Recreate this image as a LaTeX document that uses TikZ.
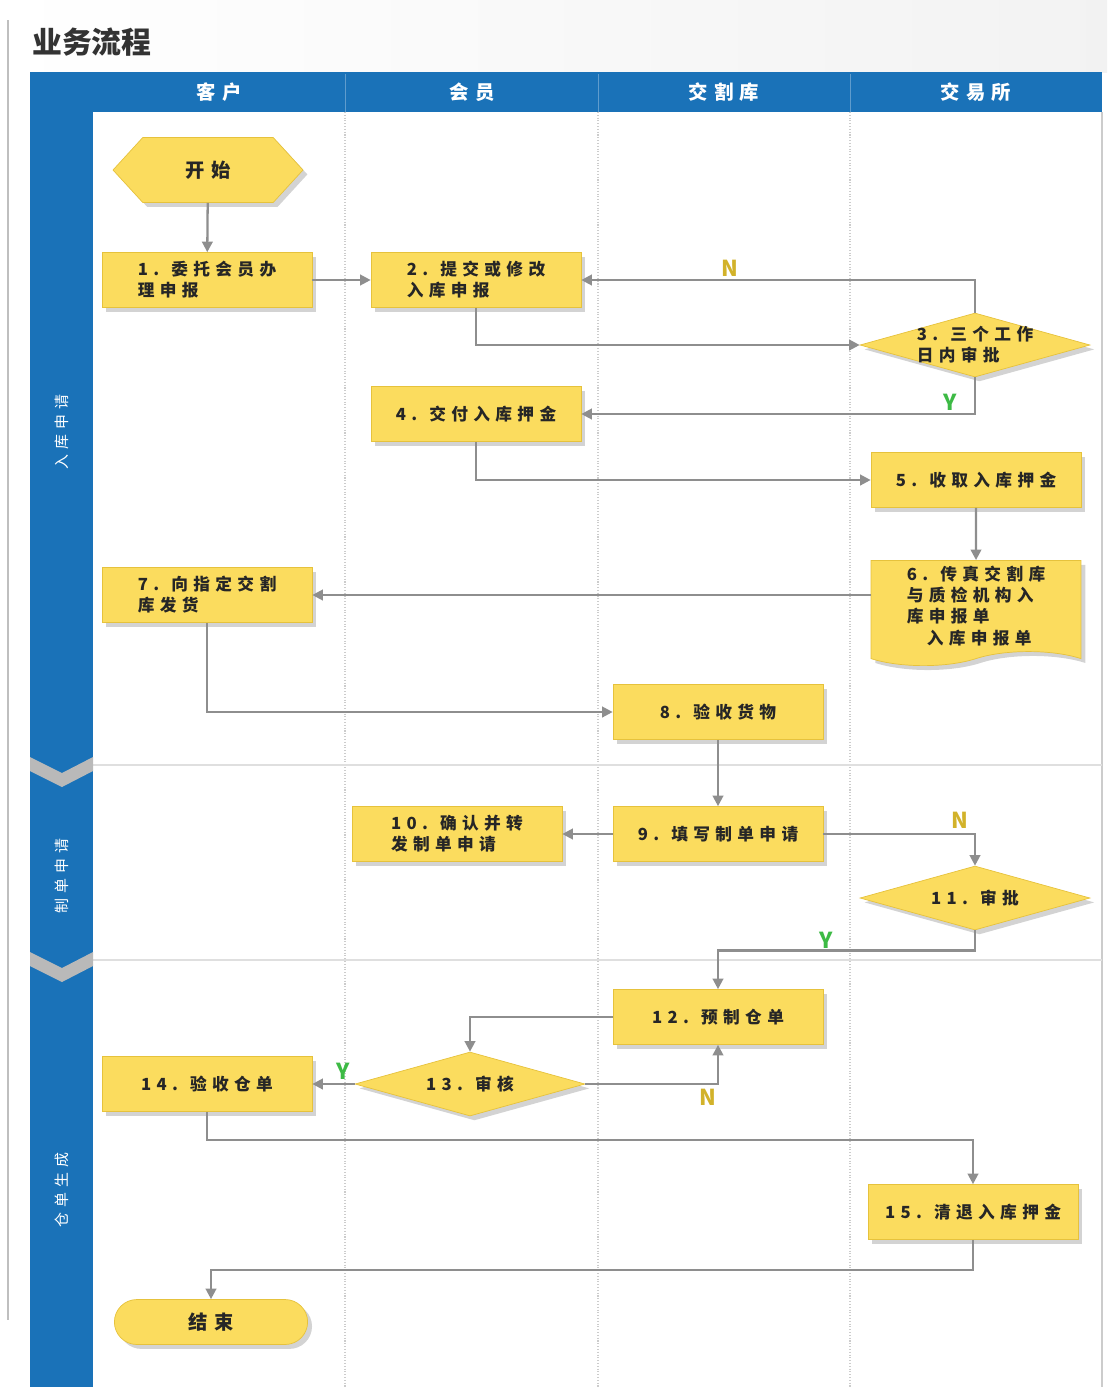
\documentclass[tikz,border=0pt]{standalone}
\usepackage{fontspec}
\setmainfont{Noto Sans CJK SC}
\newfontfamily\cjk[LetterSpace=32]{Noto Sans CJK SC}
\usetikzlibrary{shapes.geometric,shapes.symbols,shapes.misc,shadows,arrows.meta}
\definecolor{pool}{HTML}{1A72B8}
\definecolor{boxfill}{HTML}{FBDC5E}
\definecolor{boxline}{HTML}{E6C23C}
\definecolor{arrgray}{HTML}{8E8E8E}
\definecolor{nyel}{HTML}{D2B22A}
\definecolor{ygreen}{HTML}{3DBA45}
\begin{document}
\begin{tikzpicture}[x=0.02cm,y=-0.02cm,
    boxtext/.style={align=left,font=\cjk\bfseries\fontsize{9.5}{12}\selectfont,text=black!85},
    box/.style={boxtext,draw=boxline,fill=boxfill,minimum width=4.2cm,minimum height=1.1cm,
      drop shadow={shadow xshift=2.5pt,shadow yshift=-2.5pt,opacity=.35,fill=gray}},
    decide/.style={box,diamond,aspect=3.6,minimum width=4.6cm,minimum height=1.28cm,inner sep=0pt},
    arr/.style={draw=arrgray,line width=1.3pt,-{Triangle[length=6pt,width=6pt]}},
    lane/.style={draw=gray!40,densely dotted,line width=.6pt},
    yn/.style={font=\bfseries\fontsize{12.5}{14}\selectfont}]
  \useasboundingbox (0,0) rectangle (1107,1387);
  \shade[left color=white,right color=gray!10] (0,0) rectangle (1107,72);
  \draw[gray!50,line width=.8pt] (8,20) -- (8,1320);
  \node[anchor=west,font=\bfseries\fontsize{17}{20}\selectfont,text=black!80] (title) at (26,42) {业务流程};

  \fill[pool] (30,72) rectangle (93,1387);
  \fill[pool] (93,72) rectangle (1102,112);
  \foreach \x in {345,598,850} {
    \draw[pool!70!white,line width=.5pt] (\x,74) -- (\x,112);
    \draw[lane] (\x,112) -- (\x,1387);
  }
  \draw[gray!40,line width=.8pt] (1102,112) -- (1102,1387);
  \foreach \y in {765,960} {
    \draw[gray!25,line width=.8pt] (93,\y) -- (1102,\y);
    \fill[gray!55] (30,\y-8) -- (62,\y+8) -- (93,\y-8) -- (93,\y+6) -- (62,\y+22) -- (30,\y+6) -- cycle;
  }
  \foreach \x/\t in {219/客户,472/会员,724/交割库,976/交易所}
    \node[text=white,font=\cjk\bfseries\fontsize{11}{12}\selectfont] at (\x,92) {\t};
  \foreach \y/\t in {432/入库申请,876/制单申请,1190/仓单生成}
    \node[rotate=90,text=white,font=\cjk\fontsize{8.5}{10}\selectfont] at (62,\y) {\t};

  \node[box,signal,signal to=west and east,signal pointer angle=95,minimum width=3.8cm,minimum height=1.3cm,
    align=center,font=\cjk\bfseries\fontsize{11}{12}\selectfont] (start) at (208,170) {开始};
  \node[box] (n1) at (207,280) {1. 委托会员办\\理申报};
  \node[box] (n2) at (476,280) {2. 提交或修改\\入库申报};
  \node[decide,label={[boxtext]center:{3. 三个工作\\日内审批}}] (n3) at (975,345) {};
  \node[box] (n4) at (476,414) {4. 交付入库押金};
  \node[box] (n5) at (976,480) {5. 收取入库押金};
  \node[box,tape,tape bend top=none,tape bend height=8pt,minimum height=2cm] (n6) at (976,606)
    {6. 传真交割库\\与质检机构入\\库申报单\\\hspace{1.2em}入库申报单};
  \node[box] (n7) at (207,595) {7. 向指定交割\\库发货};
  \node[box] (n8) at (718,712) {8. 验收货物};
  \node[box] (n9) at (718,834) {9. 填写制单申请};
  \node[box] (n10) at (457,834) {10. 确认并转\\发制单申请};
  \node[decide,label={[boxtext]center:11. 审批}] (n11) at (975,898) {};
  \node[box] (n12) at (718,1017) {12. 预制仓单};
  \node[decide,label={[boxtext]center:13. 审核}] (n13) at (470,1084) {};
  \node[box] (n14) at (207,1084) {14. 验收仓单};
  \node[box] (n15) at (973,1212) {15. 清退入库押金};
  \node[box,rounded rectangle,minimum width=4.1cm,minimum height=0.9cm,align=center,
    font=\cjk\bfseries\fontsize{11}{12}\selectfont] (stop) at (211,1322) {结束};

  \draw[arr] (start) -- (n1);
  \draw[arr] (n1) -- (n2);
  \draw[arr] (n2.south) |- (n3.west);
  \draw[arr] (n3.north) |- (n2.east);
  \draw[arr] (n3.south) |- (n4.east);
  \draw[arr] (n4.south) |- (n5.west);
  \draw[arr] (n5) -- (n6);
  \draw[arr] (n6.west |- n7.east) -- (n7.east);
  \draw[arr] (n7.south) |- (n8.west);
  \draw[arr] (n8) -- (n9);
  \draw[arr] (n9) -- (n10);
  \draw[arr] (n9.east) -| (n11.north);
  \draw[arr] (n11.south) -- ++(0,20) -| (n12.north);
  \draw[arr] (n12.west) -| (n13.north);
  \draw[arr] (n13.east) -| (n12.south);
  \draw[arr] (n13) -- (n14);
  \draw[arr] (n14.south) -- ++(0,28) -| (n15.north);
  \draw[arr] (n15.south) -- ++(0,30) -| (stop.north);

  \node[yn,text=nyel] (l3n) at (730,268) {N};
  \node[yn,text=ygreen] (l3y) at (950,402) {Y};
  \node[yn,text=nyel] (l11n) at (960,820) {N};
  \node[yn,text=ygreen] (l11y) at (826,940) {Y};
  \node[yn,text=nyel] (l13n) at (708,1097) {N};
  \node[yn,text=ygreen] (l13y) at (343,1071) {Y};
\end{tikzpicture}
\end{document}
